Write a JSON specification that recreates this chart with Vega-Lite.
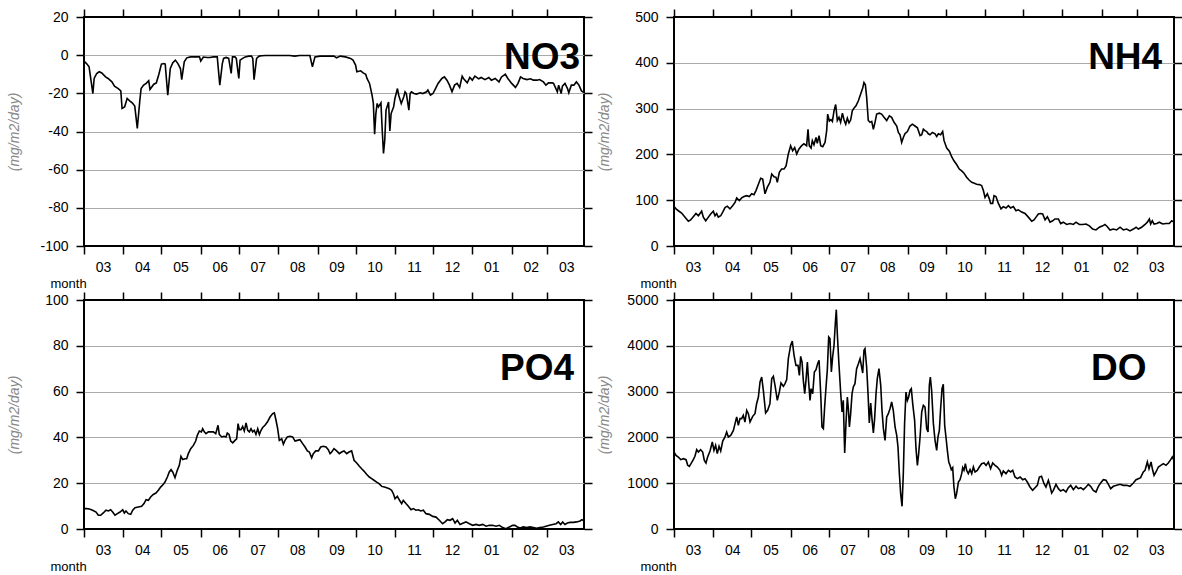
{
  "$schema": "https://vega.github.io/schema/vega-lite/v6.json",
  "padding": {"left": 6, "top": 7, "right": 0, "bottom": 0},
  "background": "white",
  "columns": 2,
  "spacing": {"row": 54, "column": 90},
  "bounds": "flush",
  "config": {
    "view": {"stroke": "black", "strokeWidth": 2},
    "axis": {
      "domain": false,
      "labelFont": "Liberation Sans",
      "labelFontSize": 14,
      "labelColor": "black",
      "tickColor": "black",
      "tickWidth": 1.5,
      "tickSize": 8,
      "titleFont": "Liberation Sans"
    }
  },
  "datasets": {
    "no3": [
      {"d":0,"v":-3.1},{"d":2,"v":-4.4},{"d":4,"v":-6.1},{"d":7,"v":-20.1},{"d":8,"v":-12.2},{"d":10,"v":-9.6},{"d":12,"v":-8.7},{"d":14,"v":-9.3},{"d":17,"v":-11.4},{"d":19,"v":-12.2},{"d":22,"v":-14},{"d":24,"v":-16.2},{"d":27,"v":-17.5},{"d":29,"v":-18.7},{"d":30,"v":-27.9},{"d":32,"v":-27.1},{"d":34,"v":-22.7},{"d":36,"v":-23.9},{"d":38,"v":-25},{"d":40,"v":-26.7},{"d":42,"v":-38.4},{"d":44,"v":-23.6},{"d":45,"v":-17.5},{"d":47,"v":-15.7},{"d":49,"v":-14.8},{"d":51,"v":-13.4},{"d":52,"v":-18},{"d":55,"v":-15.2},{"d":57,"v":-14.5},{"d":59,"v":-10},{"d":61,"v":-4.7},{"d":63,"v":-4.4},{"d":64,"v":-4.7},{"d":66,"v":-21},{"d":68,"v":-7},{"d":70,"v":-4},{"d":72,"v":-2.6},{"d":74,"v":-4.4},{"d":76,"v":-7},{"d":77,"v":-12.8},{"d":79,"v":-3.5},{"d":81,"v":-1.4},{"d":84,"v":-0.9},{"d":86,"v":-0.9},{"d":89,"v":-0.9},{"d":91,"v":-0.9},{"d":92,"v":-3.1},{"d":94,"v":-1},{"d":97,"v":-1.2},{"d":99,"v":-1.2},{"d":102,"v":-0.9},{"d":105,"v":-0.9},{"d":107,"v":-15.7},{"d":109,"v":-4.4},{"d":110,"v":-1.7},{"d":112,"v":-1.2},{"d":114,"v":-1.7},{"d":116,"v":-9.6},{"d":117,"v":-0.9},{"d":119,"v":-0.9},{"d":120,"v":-1.7},{"d":122,"v":-12.2},{"d":123,"v":-2.6},{"d":125,"v":-1.7},{"d":127,"v":-0.9},{"d":130,"v":-0.5},{"d":132,"v":-0.5},{"d":133,"v":-1.7},{"d":134,"v":-12.8},{"d":136,"v":-1.7},{"d":138,"v":-0.5},{"d":140,"v":-0.3},{"d":143,"v":-0.2},{"d":147,"v":-0.2},{"d":152,"v":-0.2},{"d":157,"v":-0.2},{"d":162,"v":-0.2},{"d":166,"v":-0.5},{"d":170,"v":-0.2},{"d":176,"v":-0.2},{"d":178,"v":-0.2},{"d":180,"v":-6.1},{"d":182,"v":-0.9},{"d":186,"v":-0.5},{"d":191,"v":-0.5},{"d":197,"v":-0.5},{"d":199,"v":-1.4},{"d":202,"v":-0.5},{"d":206,"v":-0.9},{"d":210,"v":-1.7},{"d":212,"v":-2.6},{"d":214,"v":-5.2},{"d":215,"v":-8.7},{"d":218,"v":-8.2},{"d":220,"v":-9.3},{"d":222,"v":-10},{"d":223,"v":-12.2},{"d":225,"v":-14.8},{"d":227,"v":-21},{"d":228,"v":-25.3},{"d":229,"v":-41.4},{"d":230,"v":-30.6},{"d":231,"v":-25.3},{"d":232,"v":-27.1},{"d":234,"v":-25},{"d":235,"v":-39.3},{"d":236,"v":-51.5},{"d":237,"v":-44.5},{"d":238,"v":-28.8},{"d":240,"v":-24.5},{"d":241,"v":-39.7},{"d":242,"v":-30.6},{"d":244,"v":-27.1},{"d":245,"v":-22.7},{"d":247,"v":-17.5},{"d":248,"v":-21},{"d":250,"v":-25.3},{"d":252,"v":-21.8},{"d":253,"v":-19.2},{"d":254,"v":-20.1},{"d":256,"v":-28.8},{"d":257,"v":-20.1},{"d":258,"v":-19.2},{"d":260,"v":-20.1},{"d":262,"v":-20.4},{"d":265,"v":-19.7},{"d":267,"v":-20.1},{"d":270,"v":-19.2},{"d":271,"v":-18.3},{"d":273,"v":-20.9},{"d":275,"v":-20.1},{"d":277,"v":-17.5},{"d":279,"v":-14.8},{"d":282,"v":-12.2},{"d":284,"v":-11.4},{"d":286,"v":-13.1},{"d":288,"v":-15.7},{"d":290,"v":-19.2},{"d":292,"v":-15.7},{"d":294,"v":-14.8},{"d":296,"v":-16.9},{"d":298,"v":-11},{"d":299,"v":-12.2},{"d":302,"v":-14.5},{"d":304,"v":-11.7},{"d":306,"v":-13.1},{"d":308,"v":-11},{"d":311,"v":-12.4},{"d":313,"v":-11.7},{"d":316,"v":-12.8},{"d":319,"v":-11.7},{"d":321,"v":-13.1},{"d":324,"v":-12.2},{"d":327,"v":-14},{"d":329,"v":-11.4},{"d":332,"v":-10},{"d":334,"v":-12.2},{"d":337,"v":-14.8},{"d":340,"v":-16.9},{"d":342,"v":-14.8},{"d":344,"v":-11.4},{"d":346,"v":-12.2},{"d":349,"v":-12.8},{"d":352,"v":-12.4},{"d":354,"v":-13.1},{"d":357,"v":-13.1},{"d":359,"v":-12.8},{"d":362,"v":-14},{"d":364,"v":-15.7},{"d":366,"v":-14.5},{"d":369,"v":-14.5},{"d":370,"v":-14.8},{"d":373,"v":-19.2},{"d":374,"v":-15.7},{"d":376,"v":-20.1},{"d":377,"v":-16.2},{"d":379,"v":-14.8},{"d":381,"v":-17.5},{"d":382,"v":-19.7},{"d":384,"v":-15.7},{"d":386,"v":-15.7},{"d":388,"v":-14},{"d":390,"v":-15.7},{"d":392,"v":-18.7},{"d":394,"v":-19.6}
    ],
    "nh4": [
      {"d":0,"v":86},{"d":1.6,"v":81},{"d":3.4,"v":77},{"d":6,"v":72},{"d":8.7,"v":63},{"d":11.3,"v":54},{"d":13.1,"v":57},{"d":15.2,"v":64},{"d":17.3,"v":71},{"d":19.2,"v":66},{"d":21.8,"v":76},{"d":23.1,"v":63},{"d":25,"v":55},{"d":27.1,"v":63},{"d":28.9,"v":70},{"d":31,"v":76},{"d":32.3,"v":66},{"d":33.6,"v":71},{"d":34.9,"v":63},{"d":36.8,"v":66},{"d":38.4,"v":74},{"d":40.2,"v":84},{"d":42,"v":87},{"d":44.1,"v":81},{"d":46.2,"v":88},{"d":48.1,"v":95},{"d":49.4,"v":105},{"d":51.5,"v":99},{"d":53.3,"v":105},{"d":55.2,"v":108},{"d":57.3,"v":110},{"d":59.4,"v":108},{"d":61.2,"v":114},{"d":63,"v":112},{"d":64.6,"v":121},{"d":66.5,"v":135},{"d":68.3,"v":148},{"d":69.9,"v":146},{"d":71.7,"v":114},{"d":73.5,"v":128},{"d":75.6,"v":139},{"d":77,"v":157},{"d":78.8,"v":151},{"d":80.4,"v":150},{"d":81.4,"v":139},{"d":83,"v":161},{"d":84.8,"v":168},{"d":86.7,"v":168},{"d":88.3,"v":175},{"d":90.1,"v":201},{"d":91.9,"v":219},{"d":93.5,"v":208},{"d":95.1,"v":215},{"d":96.7,"v":201},{"d":98.5,"v":212},{"d":100.6,"v":219},{"d":102.4,"v":223},{"d":104.5,"v":219},{"d":105.6,"v":255},{"d":106.6,"v":219},{"d":108,"v":214},{"d":109,"v":230},{"d":110.3,"v":221},{"d":111.9,"v":237},{"d":112.9,"v":224},{"d":114.3,"v":241},{"d":115.6,"v":219},{"d":117.2,"v":217},{"d":119,"v":226},{"d":120.3,"v":252},{"d":121.1,"v":288},{"d":122.4,"v":273},{"d":123.7,"v":276},{"d":124.8,"v":272},{"d":126.1,"v":295},{"d":127.4,"v":309},{"d":128.7,"v":274},{"d":130,"v":281},{"d":131.3,"v":270},{"d":132.7,"v":290},{"d":134,"v":275},{"d":135.3,"v":266},{"d":136.6,"v":279},{"d":137.9,"v":269},{"d":139.2,"v":275},{"d":140.5,"v":295},{"d":141.8,"v":301},{"d":143.4,"v":306},{"d":145.3,"v":317},{"d":147.1,"v":332},{"d":148.7,"v":345},{"d":149.7,"v":357},{"d":150.8,"v":352},{"d":151.8,"v":325},{"d":153.1,"v":274},{"d":154.5,"v":270},{"d":155.8,"v":272},{"d":157.1,"v":255},{"d":158.4,"v":270},{"d":159.7,"v":288},{"d":161.8,"v":290},{"d":163.6,"v":288},{"d":165.5,"v":281},{"d":167.6,"v":274},{"d":169.7,"v":284},{"d":171.5,"v":281},{"d":173.4,"v":270},{"d":175.5,"v":262},{"d":176.8,"v":248},{"d":178.1,"v":243},{"d":179.4,"v":226},{"d":180.7,"v":237},{"d":182,"v":245},{"d":183.9,"v":250},{"d":186,"v":262},{"d":187.8,"v":266},{"d":189.9,"v":262},{"d":191.8,"v":258},{"d":193.9,"v":241},{"d":195.2,"v":243},{"d":196.5,"v":255},{"d":197.8,"v":252},{"d":199.1,"v":250},{"d":200.4,"v":245},{"d":201.7,"v":243},{"d":203.6,"v":248},{"d":205.7,"v":245},{"d":207,"v":239},{"d":208.3,"v":245},{"d":210.1,"v":243},{"d":211.7,"v":250},{"d":212.8,"v":230},{"d":214.9,"v":214},{"d":217,"v":207},{"d":218.8,"v":195},{"d":220.6,"v":186},{"d":222.7,"v":178},{"d":224.8,"v":168},{"d":226.7,"v":164},{"d":228.5,"v":159},{"d":230.6,"v":150},{"d":232.5,"v":144},{"d":234.6,"v":139},{"d":236.7,"v":137},{"d":238.5,"v":135},{"d":240.6,"v":134},{"d":242.4,"v":132},{"d":243.8,"v":121},{"d":245.1,"v":106},{"d":246.9,"v":114},{"d":248.5,"v":103},{"d":249.5,"v":93},{"d":251.1,"v":93},{"d":252.2,"v":110},{"d":253.7,"v":108},{"d":255.6,"v":93},{"d":257.7,"v":81},{"d":259.5,"v":86},{"d":261.6,"v":83},{"d":263.5,"v":88},{"d":265.3,"v":83},{"d":267.4,"v":86},{"d":269.5,"v":77},{"d":271.3,"v":79},{"d":274,"v":74},{"d":276.6,"v":71},{"d":279.2,"v":63},{"d":281.9,"v":54},{"d":283.7,"v":57},{"d":285.3,"v":63},{"d":287.1,"v":70},{"d":288.9,"v":71},{"d":290.5,"v":70},{"d":292.4,"v":57},{"d":294.2,"v":64},{"d":296.3,"v":52},{"d":298.4,"v":55},{"d":300.2,"v":59},{"d":302.9,"v":59},{"d":304.7,"v":49},{"d":306.8,"v":52},{"d":309.4,"v":47},{"d":312.1,"v":49},{"d":314.7,"v":47},{"d":316.8,"v":52},{"d":319.4,"v":47},{"d":322,"v":47},{"d":324.7,"v":48},{"d":327.3,"v":44},{"d":329.9,"v":37},{"d":332.5,"v":35},{"d":335.2,"v":41},{"d":337.8,"v":44},{"d":339.6,"v":47},{"d":341.5,"v":42},{"d":343.6,"v":35},{"d":346.2,"v":37},{"d":348.8,"v":35},{"d":351.5,"v":41},{"d":354.1,"v":35},{"d":356.7,"v":37},{"d":359.3,"v":33},{"d":362,"v":37},{"d":364.1,"v":41},{"d":365.9,"v":37},{"d":368.5,"v":41},{"d":371.2,"v":47},{"d":373,"v":52},{"d":374.6,"v":59},{"d":375.6,"v":48},{"d":376.9,"v":55},{"d":378.3,"v":48},{"d":380.4,"v":49},{"d":382.4,"v":52},{"d":385.1,"v":48},{"d":387.7,"v":49},{"d":390.3,"v":49},{"d":392.2,"v":55},{"d":394,"v":52}
    ],
    "po4": [
      {"d":0,"v":8.9},{"d":2.1,"v":8.9},{"d":4.2,"v":8.7},{"d":6.8,"v":8.2},{"d":9.5,"v":7.4},{"d":11.3,"v":6},{"d":13.1,"v":6},{"d":15.2,"v":7},{"d":17.3,"v":8.2},{"d":19.2,"v":7.9},{"d":21,"v":8.4},{"d":22.6,"v":7.4},{"d":24.4,"v":6},{"d":26.3,"v":6.7},{"d":28.4,"v":7.4},{"d":30.5,"v":8.4},{"d":31.8,"v":7},{"d":33.1,"v":7.9},{"d":34.9,"v":6.7},{"d":36.8,"v":6.4},{"d":38.4,"v":8.2},{"d":40.2,"v":9.3},{"d":42.8,"v":9.6},{"d":45.4,"v":9.9},{"d":47.3,"v":11.1},{"d":48.9,"v":12.8},{"d":50.7,"v":12.5},{"d":52.5,"v":14},{"d":54.6,"v":15.1},{"d":56.7,"v":15.7},{"d":58.6,"v":16.9},{"d":60.4,"v":18.3},{"d":62.5,"v":19.5},{"d":63.8,"v":20.5},{"d":65.7,"v":22.7},{"d":67.2,"v":24.9},{"d":68.6,"v":25.9},{"d":69.9,"v":24.9},{"d":71.7,"v":22.4},{"d":73.5,"v":25.6},{"d":75.1,"v":27.8},{"d":76.4,"v":31.7},{"d":77.8,"v":30.3},{"d":79.6,"v":30.7},{"d":80.9,"v":30.7},{"d":82.2,"v":32.9},{"d":84.1,"v":35.1},{"d":86.2,"v":36.5},{"d":88,"v":38.4},{"d":89.3,"v":40.9},{"d":90.9,"v":42.8},{"d":92.5,"v":42.4},{"d":93.5,"v":43.8},{"d":94.8,"v":42.4},{"d":96.1,"v":41.6},{"d":98,"v":42.4},{"d":99.8,"v":42.4},{"d":101.9,"v":42.4},{"d":103.8,"v":41.6},{"d":105.6,"v":45.3},{"d":106.6,"v":41.3},{"d":108.5,"v":40.2},{"d":110.3,"v":40.5},{"d":111.9,"v":40.2},{"d":112.9,"v":41.9},{"d":114.3,"v":41.3},{"d":115.6,"v":38.4},{"d":117.2,"v":37.6},{"d":119,"v":38.7},{"d":120.3,"v":39.4},{"d":121.4,"v":46},{"d":122.4,"v":43.4},{"d":123.7,"v":43.4},{"d":125,"v":44.8},{"d":126.3,"v":42.8},{"d":127.7,"v":46.3},{"d":129,"v":43.1},{"d":130.3,"v":42.4},{"d":131.6,"v":43.8},{"d":132.9,"v":42.4},{"d":134.2,"v":43.1},{"d":135.5,"v":41.3},{"d":136.9,"v":43.8},{"d":138.2,"v":41.3},{"d":139.5,"v":43.1},{"d":140.8,"v":44.3},{"d":142.6,"v":45.3},{"d":144.5,"v":46.7},{"d":146.6,"v":48.9},{"d":148.7,"v":50.4},{"d":150,"v":50.7},{"d":151.3,"v":47.5},{"d":152.6,"v":43.8},{"d":153.9,"v":38.7},{"d":155.8,"v":39.4},{"d":157.1,"v":37},{"d":158.4,"v":38.7},{"d":160.2,"v":40.2},{"d":162.3,"v":40.5},{"d":164.4,"v":40.2},{"d":166.3,"v":38.4},{"d":168.1,"v":38.7},{"d":170.2,"v":39},{"d":172.3,"v":37.3},{"d":174.2,"v":35.8},{"d":176,"v":34.1},{"d":177.6,"v":33.6},{"d":179.4,"v":31.1},{"d":180.7,"v":32.9},{"d":182.6,"v":34.1},{"d":184.7,"v":34.1},{"d":186.5,"v":35.8},{"d":188.6,"v":36.1},{"d":190.7,"v":35.8},{"d":192.5,"v":34.6},{"d":193.9,"v":32.9},{"d":195.2,"v":33.6},{"d":197,"v":35.1},{"d":199.1,"v":34.1},{"d":201.2,"v":32.9},{"d":203,"v":33.6},{"d":204.9,"v":34.1},{"d":207,"v":32.9},{"d":208.8,"v":33.6},{"d":210.9,"v":34.1},{"d":212.8,"v":30},{"d":214.9,"v":28.8},{"d":217,"v":27.4},{"d":218.8,"v":26.3},{"d":220.6,"v":25.3},{"d":222.7,"v":23.9},{"d":224.8,"v":22.7},{"d":226.7,"v":22},{"d":228.5,"v":21.3},{"d":230.6,"v":20.5},{"d":232.5,"v":19.8},{"d":234.6,"v":18.6},{"d":236.7,"v":18.3},{"d":238.5,"v":18},{"d":240.6,"v":17.6},{"d":242.4,"v":16.9},{"d":243.8,"v":15.4},{"d":245.1,"v":13.2},{"d":246.9,"v":14.3},{"d":249,"v":12.2},{"d":250.3,"v":11.1},{"d":251.6,"v":12.5},{"d":253.7,"v":11.1},{"d":255.6,"v":9.9},{"d":257.7,"v":8.4},{"d":259.5,"v":8.9},{"d":261.6,"v":8.2},{"d":263.5,"v":8.4},{"d":265.3,"v":7.9},{"d":267.4,"v":8.2},{"d":269.5,"v":6.7},{"d":272.1,"v":6.4},{"d":274.8,"v":5.5},{"d":277.4,"v":5.2},{"d":280,"v":3.8},{"d":282.6,"v":2.3},{"d":284.5,"v":3.1},{"d":286.3,"v":4.1},{"d":288.4,"v":3.8},{"d":290.5,"v":4.5},{"d":292.4,"v":2.6},{"d":294.2,"v":3.8},{"d":296.3,"v":2},{"d":298.9,"v":2.6},{"d":301,"v":3.1},{"d":303.7,"v":2.3},{"d":306.3,"v":1.6},{"d":308.9,"v":2},{"d":311.5,"v":1.6},{"d":314.2,"v":2},{"d":316.8,"v":1.2},{"d":319.4,"v":1.6},{"d":322,"v":1.6},{"d":324.7,"v":1.2},{"d":327.3,"v":1.6},{"d":329.9,"v":0.6},{"d":332.5,"v":0.1},{"d":335.2,"v":0.9},{"d":337.8,"v":1.6},{"d":339.6,"v":1.6},{"d":341.5,"v":0.9},{"d":343.6,"v":0.4},{"d":346.2,"v":0.9},{"d":348.8,"v":0.6},{"d":351.5,"v":0.9},{"d":354.1,"v":0.6},{"d":356.7,"v":0.3},{"d":359.3,"v":0.6},{"d":362,"v":0.9},{"d":364.1,"v":1.2},{"d":366.8,"v":1.6},{"d":369.3,"v":2},{"d":372,"v":2.3},{"d":373.8,"v":3.1},{"d":375.6,"v":2},{"d":377.2,"v":3.1},{"d":379,"v":2},{"d":380.9,"v":2.6},{"d":383,"v":2.9},{"d":385.6,"v":2.9},{"d":388.2,"v":3.1},{"d":390.9,"v":3.5},{"d":392.4,"v":4.1},{"d":394,"v":3.5}
    ],
    "do": [
      {"d":0,"v":1681},{"d":1.6,"v":1608},{"d":3.4,"v":1572},{"d":5.3,"v":1514},{"d":7.4,"v":1535},{"d":9.5,"v":1514},{"d":10.8,"v":1390},{"d":12.1,"v":1368},{"d":13.4,"v":1426},{"d":15.2,"v":1514},{"d":16.5,"v":1587},{"d":17.9,"v":1732},{"d":19.2,"v":1681},{"d":21,"v":1732},{"d":22.6,"v":1681},{"d":23.9,"v":1499},{"d":25.2,"v":1441},{"d":26.5,"v":1572},{"d":28.4,"v":1703},{"d":30.2,"v":1900},{"d":31.5,"v":1718},{"d":32.8,"v":1827},{"d":34.1,"v":1645},{"d":35.5,"v":1805},{"d":36.8,"v":1703},{"d":38.4,"v":1921},{"d":40.2,"v":2009},{"d":41.5,"v":2118},{"d":42.8,"v":2009},{"d":44.7,"v":2045},{"d":46.8,"v":2154},{"d":48.1,"v":2300},{"d":49.4,"v":2445},{"d":50.7,"v":2263},{"d":52,"v":2409},{"d":53.3,"v":2409},{"d":54.6,"v":2482},{"d":55.9,"v":2336},{"d":57.3,"v":2591},{"d":58.6,"v":2518},{"d":59.9,"v":2336},{"d":62,"v":2460},{"d":63.8,"v":2518},{"d":65.1,"v":2736},{"d":66.5,"v":2882},{"d":67.8,"v":3210},{"d":69.1,"v":3319},{"d":70.4,"v":3028},{"d":72.2,"v":2533},{"d":73.8,"v":2591},{"d":75.6,"v":2736},{"d":77,"v":3282},{"d":78.3,"v":3333},{"d":79.6,"v":3137},{"d":81.4,"v":2809},{"d":83,"v":2991},{"d":84.3,"v":3188},{"d":86.2,"v":3115},{"d":87.5,"v":3173},{"d":88.8,"v":3261},{"d":90.1,"v":3719},{"d":91.9,"v":4010},{"d":93.2,"v":4105},{"d":94.6,"v":3792},{"d":96.1,"v":3573},{"d":97.7,"v":3573},{"d":98.8,"v":3355},{"d":99.8,"v":3770},{"d":100.9,"v":3646},{"d":101.9,"v":3246},{"d":103,"v":2955},{"d":104,"v":3246},{"d":105.1,"v":3646},{"d":106.1,"v":3210},{"d":107.2,"v":2809},{"d":108,"v":3064},{"d":109.3,"v":2955},{"d":110.6,"v":3428},{"d":111.9,"v":3479},{"d":113.2,"v":3610},{"d":114.3,"v":3683},{"d":115.6,"v":2955},{"d":116.6,"v":2227},{"d":117.7,"v":2191},{"d":118.7,"v":2664},{"d":119.8,"v":3100},{"d":120.8,"v":3464},{"d":121.9,"v":4192},{"d":122.9,"v":4156},{"d":124,"v":3428},{"d":125,"v":3755},{"d":126.1,"v":4010},{"d":127.1,"v":4483},{"d":127.9,"v":4789},{"d":128.7,"v":4265},{"d":129.8,"v":3683},{"d":131.3,"v":2991},{"d":132.4,"v":2555},{"d":133.4,"v":2809},{"d":134.5,"v":1659},{"d":135.5,"v":2300},{"d":136.6,"v":2882},{"d":137.4,"v":2627},{"d":138.2,"v":2227},{"d":139.2,"v":2518},{"d":140.3,"v":2955},{"d":141.3,"v":3100},{"d":142.6,"v":3173},{"d":143.9,"v":3501},{"d":145.3,"v":3610},{"d":146.6,"v":3719},{"d":147.6,"v":3573},{"d":148.7,"v":3406},{"d":149.7,"v":3901},{"d":150.5,"v":3937},{"d":151.8,"v":3537},{"d":152.9,"v":2955},{"d":153.9,"v":2314},{"d":155,"v":2751},{"d":156,"v":2409},{"d":157.1,"v":2096},{"d":158.1,"v":2409},{"d":159.2,"v":2955},{"d":160.2,"v":3282},{"d":161.5,"v":3501},{"d":162.9,"v":3137},{"d":163.9,"v":2591},{"d":165,"v":2191},{"d":166.3,"v":1936},{"d":167.6,"v":2445},{"d":168.9,"v":2518},{"d":170.2,"v":2627},{"d":171.5,"v":2773},{"d":172.8,"v":2591},{"d":174.2,"v":2227},{"d":175.5,"v":2045},{"d":176.5,"v":1790},{"d":177.6,"v":1208},{"d":178.6,"v":771},{"d":179.7,"v":495},{"d":180.7,"v":1208},{"d":181.7,"v":2300},{"d":182.8,"v":2991},{"d":183.9,"v":2809},{"d":184.9,"v":2882},{"d":186,"v":3028},{"d":187,"v":3064},{"d":188.1,"v":2736},{"d":189.6,"v":2373},{"d":190.7,"v":1754},{"d":191.8,"v":1390},{"d":192.8,"v":1645},{"d":193.9,"v":2009},{"d":195.2,"v":2555},{"d":196.5,"v":2700},{"d":197.8,"v":2664},{"d":199.1,"v":2191},{"d":200.2,"v":2118},{"d":201.2,"v":3137},{"d":202,"v":3319},{"d":203,"v":3028},{"d":204.4,"v":2300},{"d":205.7,"v":1936},{"d":207,"v":1718},{"d":208,"v":2009},{"d":209.1,"v":2154},{"d":210.1,"v":2627},{"d":211.2,"v":3064},{"d":212.2,"v":3159},{"d":213.3,"v":2263},{"d":214.3,"v":2009},{"d":215.4,"v":1718},{"d":216.5,"v":1463},{"d":217.5,"v":1390},{"d":218.5,"v":1296},{"d":219.6,"v":1339},{"d":220.6,"v":917},{"d":221.7,"v":662},{"d":222.7,"v":771},{"d":224.1,"v":1026},{"d":225.4,"v":1077},{"d":226.7,"v":1208},{"d":227.5,"v":1339},{"d":228.5,"v":1281},{"d":229.6,"v":1426},{"d":230.6,"v":1281},{"d":231.9,"v":1208},{"d":233.3,"v":1296},{"d":234.6,"v":1208},{"d":235.9,"v":1354},{"d":237.2,"v":1245},{"d":239,"v":1281},{"d":240.6,"v":1354},{"d":242.4,"v":1426},{"d":244.3,"v":1441},{"d":245.9,"v":1390},{"d":247.7,"v":1463},{"d":249.5,"v":1317},{"d":251.1,"v":1441},{"d":253,"v":1390},{"d":254.8,"v":1354},{"d":256.9,"v":1281},{"d":258.2,"v":1172},{"d":259.5,"v":1266},{"d":261.6,"v":1208},{"d":263.5,"v":1281},{"d":265.3,"v":1245},{"d":266.9,"v":1281},{"d":268.7,"v":1135},{"d":270.6,"v":1099},{"d":272.7,"v":1135},{"d":274.8,"v":1077},{"d":276.6,"v":1099},{"d":278.4,"v":1026},{"d":280.5,"v":917},{"d":282.6,"v":844},{"d":284.5,"v":902},{"d":286.3,"v":953},{"d":287.9,"v":1135},{"d":289.6,"v":1150},{"d":291.6,"v":990},{"d":293.1,"v":917},{"d":295,"v":1063},{"d":296.3,"v":932},{"d":297.6,"v":786},{"d":298.9,"v":844},{"d":301,"v":975},{"d":302.9,"v":881},{"d":304.7,"v":830},{"d":306.8,"v":859},{"d":308.9,"v":808},{"d":310.7,"v":902},{"d":312.6,"v":953},{"d":314.7,"v":859},{"d":316.8,"v":932},{"d":318.6,"v":881},{"d":320.5,"v":902},{"d":322.6,"v":859},{"d":324.7,"v":917},{"d":326.5,"v":975},{"d":328.3,"v":932},{"d":330.4,"v":844},{"d":332.5,"v":808},{"d":334.4,"v":932},{"d":336.2,"v":1004},{"d":338.3,"v":1077},{"d":340.4,"v":1063},{"d":342.3,"v":975},{"d":344.1,"v":881},{"d":346.2,"v":932},{"d":348.8,"v":953},{"d":351.5,"v":975},{"d":354.1,"v":953},{"d":356.7,"v":953},{"d":359.3,"v":932},{"d":362,"v":1004},{"d":364.1,"v":1077},{"d":365.9,"v":1099},{"d":367.7,"v":1121},{"d":369.8,"v":1245},{"d":371.2,"v":1281},{"d":373,"v":1463},{"d":374.3,"v":1317},{"d":375.9,"v":1463},{"d":377.2,"v":1281},{"d":378.3,"v":1172},{"d":379.8,"v":1245},{"d":381.7,"v":1354},{"d":383.6,"v":1390},{"d":385.6,"v":1426},{"d":387.7,"v":1390},{"d":389.5,"v":1441},{"d":391.4,"v":1514},{"d":392.7,"v":1572},{"d":394,"v":1499}
    ]
  },
  "concat": [
    {
      "width": 500, "height": 229,
      "layer": [
        {
          "data": {"name": "no3"},
          "mark": {"type": "line", "color": "black", "strokeWidth": 1.6},
          "encoding": {
            "x": {"field": "d", "type": "quantitative", "scale": {"domain": [0, 394], "nice": false, "zero": false},
              "axis": {"orient": "bottom", "values": [0,31,61,92,122,153,184,214,245,275,306,337,365], "labelExpr": "timeFormat(datetime(2001, 2, 1 + datum.value), '%m')", "labelOffset": 19, "labelPadding": 6, "labelOverlap": false, "labelBound": false, "labelFlush": false, "grid": false, "title": "month", "titleFontSize": 13, "titleFontWeight": "normal", "titleColor": "black", "titleAnchor": "start", "titleAlign": "left", "titleBaseline": "alphabetic", "titleX": -34, "titleY": 41}},
            "y": {"field": "v", "type": "quantitative", "scale": {"domain": [-100, 20], "nice": false, "zero": false},
              "axis": {"orient": "left", "values": [-100,-80,-60,-40,-20,0,20], "labelExpr": "'' + datum.value", "labelPadding": 8, "grid": true, "gridColor": "#aaaaaa", "gridOpacity": {"condition": {"test": "datum.value == 20 || datum.value == -100", "value": 0}, "value": 1}, "title": "(mg/m2/day)", "titleFontStyle": "italic", "titleFontWeight": "normal", "titleFontSize": 14, "titleColor": "#888888", "titleX": -70, "titleY": 114.5, "titleAlign": "center", "titleBaseline": "middle", "titleAngle": -90}}
          }
        },
        {
          "data": {"values": [{"label": "NO3"}]},
          "mark": {"type": "text", "font": "Liberation Sans", "fontWeight": "bold", "fontSize": 37, "align": "center", "baseline": "alphabetic", "color": "black"},
          "encoding": {
            "x": {"datum": 361, "type": "quantitative", "axis": {"orient": "top", "values": [0,31,61,92,122,153,184,214,245,275,306,337,365], "labels": false, "grid": false, "title": null}},
            "y": {"datum": -7.2, "type": "quantitative", "axis": {"orient": "right", "values": [-100,-80,-60,-40,-20,0,20], "labels": false, "grid": false, "title": null}},
            "text": {"field": "label"}
          }
        }
      ],
      "resolve": {"axis": {"x": "independent", "y": "independent"}}
    },
    {
      "width": 500, "height": 229,
      "layer": [
        {
          "data": {"name": "nh4"},
          "mark": {"type": "line", "color": "black", "strokeWidth": 1.6},
          "encoding": {
            "x": {"field": "d", "type": "quantitative", "scale": {"domain": [0, 394], "nice": false, "zero": false},
              "axis": {"orient": "bottom", "values": [0,31,61,92,122,153,184,214,245,275,306,337,365], "labelExpr": "timeFormat(datetime(2001, 2, 1 + datum.value), '%m')", "labelOffset": 19, "labelPadding": 6, "labelOverlap": false, "labelBound": false, "labelFlush": false, "grid": false, "title": "month", "titleFontSize": 13, "titleFontWeight": "normal", "titleColor": "black", "titleAnchor": "start", "titleAlign": "left", "titleBaseline": "alphabetic", "titleX": -34, "titleY": 41}},
            "y": {"field": "v", "type": "quantitative", "scale": {"domain": [0, 500], "nice": false, "zero": false},
              "axis": {"orient": "left", "values": [0,100,200,300,400,500], "labelExpr": "'' + datum.value", "labelPadding": 8, "grid": true, "gridColor": "#aaaaaa", "gridOpacity": {"condition": {"test": "datum.value == 500 || datum.value == 0", "value": 0}, "value": 1}, "title": "(mg/m2/day)", "titleFontStyle": "italic", "titleFontWeight": "normal", "titleFontSize": 14, "titleColor": "#888888", "titleX": -70, "titleY": 114.5, "titleAlign": "center", "titleBaseline": "middle", "titleAngle": -90}}
          }
        },
        {
          "data": {"values": [{"label": "NH4"}]},
          "mark": {"type": "text", "font": "Liberation Sans", "fontWeight": "bold", "fontSize": 37, "align": "center", "baseline": "alphabetic", "color": "black"},
          "encoding": {
            "x": {"datum": 355.5, "type": "quantitative", "axis": {"orient": "top", "values": [0,31,61,92,122,153,184,214,245,275,306,337,365], "labels": false, "grid": false, "title": null}},
            "y": {"datum": 386, "type": "quantitative", "axis": {"orient": "right", "values": [0,100,200,300,400,500], "labels": false, "grid": false, "title": null}},
            "text": {"field": "label"}
          }
        }
      ],
      "resolve": {"axis": {"x": "independent", "y": "independent"}}
    },
    {
      "width": 500, "height": 229,
      "layer": [
        {
          "data": {"name": "po4"},
          "mark": {"type": "line", "color": "black", "strokeWidth": 1.6},
          "encoding": {
            "x": {"field": "d", "type": "quantitative", "scale": {"domain": [0, 394], "nice": false, "zero": false},
              "axis": {"orient": "bottom", "values": [0,31,61,92,122,153,184,214,245,275,306,337,365], "labelExpr": "timeFormat(datetime(2001, 2, 1 + datum.value), '%m')", "labelOffset": 19, "labelPadding": 6, "labelOverlap": false, "labelBound": false, "labelFlush": false, "grid": false, "title": "month", "titleFontSize": 13, "titleFontWeight": "normal", "titleColor": "black", "titleAnchor": "start", "titleAlign": "left", "titleBaseline": "alphabetic", "titleX": -34, "titleY": 41}},
            "y": {"field": "v", "type": "quantitative", "scale": {"domain": [0, 100], "nice": false, "zero": false},
              "axis": {"orient": "left", "values": [0,20,40,60,80,100], "labelExpr": "'' + datum.value", "labelPadding": 8, "grid": true, "gridColor": "#aaaaaa", "gridOpacity": {"condition": {"test": "datum.value == 100 || datum.value == 0", "value": 0}, "value": 1}, "title": "(mg/m2/day)", "titleFontStyle": "italic", "titleFontWeight": "normal", "titleFontSize": 14, "titleColor": "#888888", "titleX": -70, "titleY": 114.5, "titleAlign": "center", "titleBaseline": "middle", "titleAngle": -90}}
          }
        },
        {
          "data": {"values": [{"label": "PO4"}]},
          "mark": {"type": "text", "font": "Liberation Sans", "fontWeight": "bold", "fontSize": 37, "align": "center", "baseline": "alphabetic", "color": "black"},
          "encoding": {
            "x": {"datum": 357, "type": "quantitative", "axis": {"orient": "top", "values": [0,31,61,92,122,153,184,214,245,275,306,337,365], "labels": false, "grid": false, "title": null}},
            "y": {"datum": 65.2, "type": "quantitative", "axis": {"orient": "right", "values": [0,20,40,60,80,100], "labels": false, "grid": false, "title": null}},
            "text": {"field": "label"}
          }
        }
      ],
      "resolve": {"axis": {"x": "independent", "y": "independent"}}
    },
    {
      "width": 500, "height": 229,
      "layer": [
        {
          "data": {"name": "do"},
          "mark": {"type": "line", "color": "black", "strokeWidth": 1.6},
          "encoding": {
            "x": {"field": "d", "type": "quantitative", "scale": {"domain": [0, 394], "nice": false, "zero": false},
              "axis": {"orient": "bottom", "values": [0,31,61,92,122,153,184,214,245,275,306,337,365], "labelExpr": "timeFormat(datetime(2001, 2, 1 + datum.value), '%m')", "labelOffset": 19, "labelPadding": 6, "labelOverlap": false, "labelBound": false, "labelFlush": false, "grid": false, "title": "month", "titleFontSize": 13, "titleFontWeight": "normal", "titleColor": "black", "titleAnchor": "start", "titleAlign": "left", "titleBaseline": "alphabetic", "titleX": -34, "titleY": 41}},
            "y": {"field": "v", "type": "quantitative", "scale": {"domain": [0, 5000], "nice": false, "zero": false},
              "axis": {"orient": "left", "values": [0,1000,2000,3000,4000,5000], "labelExpr": "'' + datum.value", "labelPadding": 8, "grid": true, "gridColor": "#aaaaaa", "gridOpacity": {"condition": {"test": "datum.value == 5000 || datum.value == 0", "value": 0}, "value": 1}, "title": "(mg/m2/day)", "titleFontStyle": "italic", "titleFontWeight": "normal", "titleFontSize": 14, "titleColor": "#888888", "titleX": -70, "titleY": 114.5, "titleAlign": "center", "titleBaseline": "middle", "titleAngle": -90}}
          }
        },
        {
          "data": {"values": [{"label": "DO"}]},
          "mark": {"type": "text", "font": "Liberation Sans", "fontWeight": "bold", "fontSize": 37, "align": "center", "baseline": "alphabetic", "color": "black"},
          "encoding": {
            "x": {"datum": 350.5, "type": "quantitative", "axis": {"orient": "top", "values": [0,31,61,92,122,153,184,214,245,275,306,337,365], "labels": false, "grid": false, "title": null}},
            "y": {"datum": 3260, "type": "quantitative", "axis": {"orient": "right", "values": [0,1000,2000,3000,4000,5000], "labels": false, "grid": false, "title": null}},
            "text": {"field": "label"}
          }
        }
      ],
      "resolve": {"axis": {"x": "independent", "y": "independent"}}
    }
  ]
}
